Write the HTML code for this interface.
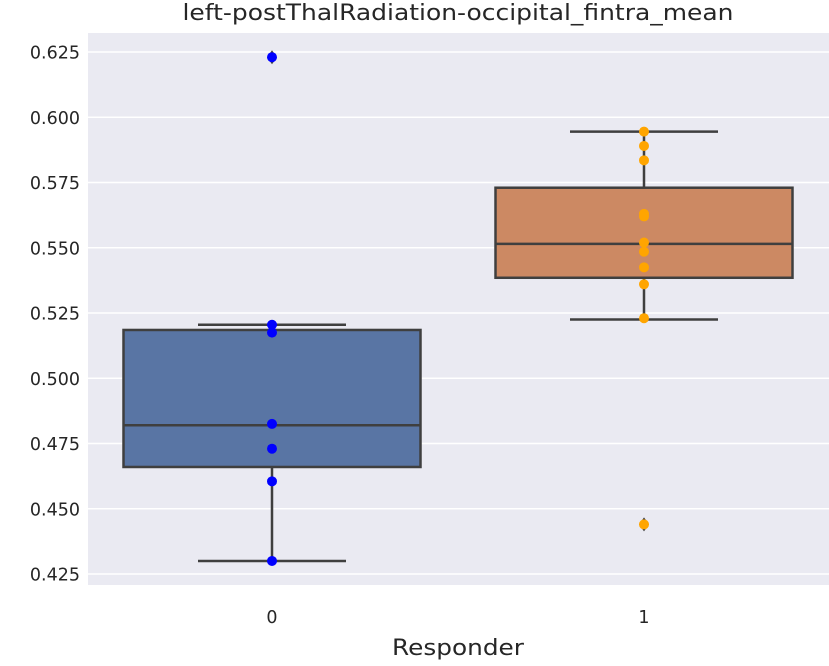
<!DOCTYPE html>
<html><head><meta charset="utf-8"><style>
body{margin:0;background:#fff;}
svg text{font-family:"DejaVu Sans","Liberation Sans",sans-serif;fill:#262626;}
</style></head><body>
<svg id="chart" width="829" height="661" viewBox="0 0 829 661" xmlns="http://www.w3.org/2000/svg">
<rect x="88" y="33" width="741" height="552" fill="#eaeaf2"/>
<g id="grid"></g><g id="boxes"></g><g id="pts"></g><g id="axes"></g>
<text x="458" y="20" text-anchor="middle" font-size="22" textLength="551" lengthAdjust="spacingAndGlyphs">left-postThalRadiation-occipital_fintra_mean</text>
<text x="458" y="655" text-anchor="middle" font-size="22" textLength="132" lengthAdjust="spacingAndGlyphs">Responder</text>
</svg>
<script>
const categories=["0","1"];
const yTicks=[0.425,0.45,0.475,0.5,0.525,0.55,0.575,0.6,0.625];
const q1=[0.466,0.5385];
const medians=[0.482,0.5515];
const q3=[0.5185,0.573];
const whiskLo=[0.430,0.5225];
const whiskHi=[0.5205,0.5945];
const outliers=[[0.623],[0.444]];
const points0=[0.623,0.5205,0.5175,0.4825,0.473,0.4605,0.430];
const points1=[0.5945,0.589,0.5835,0.563,0.562,0.552,0.5485,0.5425,0.536,0.523,0.444];
const boxColors=["#5975a4","#cc8963"];
const ptColors=["#0000ff","#ffa500"];
const NS="http://www.w3.org/2000/svg";
const y=v=>574-(v-0.425)/0.025*65.25;
const x=i=>272+i*372;
const halfW=148.5;
function mk(tag,attrs,parent){const e=document.createElementNS(NS,tag);for(const k in attrs)e.setAttribute(k,attrs[k]);document.getElementById(parent).appendChild(e);return e;}
yTicks.forEach(t=>{
 const l=mk('line',{x1:88,x2:829,y1:y(t),y2:y(t),stroke:'#fff','stroke-width':1.5},'grid');
 
 
 const tx=mk('text',{x:80,y:y(t)+6.5,'text-anchor':'end','font-size':17.5},'axes');
 tx.textContent=t.toFixed(3);
 
 
});
categories.forEach((c,i)=>{
 const cx=x(i),s='#3f3f3f';
 const g=mk('g',{},'boxes');
 
 
 const a=(t,o)=>{const e=document.createElementNS(NS,t);for(const k in o)e.setAttribute(k,o[k]);g.appendChild(e);return e;};
 a('line',{x1:cx,x2:cx,y1:y(q3[i]),y2:y(whiskHi[i]),stroke:s,'stroke-width':2.5});
 a('line',{x1:cx,x2:cx,y1:y(q1[i]),y2:y(whiskLo[i]),stroke:s,'stroke-width':2.5});
 a('line',{x1:cx-74,x2:cx+74,y1:y(whiskHi[i]),y2:y(whiskHi[i]),stroke:s,'stroke-width':2.5});
 a('line',{x1:cx-74,x2:cx+74,y1:y(whiskLo[i]),y2:y(whiskLo[i]),stroke:s,'stroke-width':2.5});
 a('rect',{x:cx-halfW,y:y(q3[i]),width:halfW*2,height:y(q1[i])-y(q3[i]),fill:boxColors[i],stroke:s,'stroke-width':2.5});
 a('line',{x1:cx-halfW,x2:cx+halfW,y1:y(medians[i]),y2:y(medians[i]),stroke:s,'stroke-width':2.5});
 outliers[i].forEach(o=>{a('path',{d:`M${cx} ${y(o)-7}L${cx+5} ${y(o)}L${cx} ${y(o)+7}L${cx-5} ${y(o)}Z`,fill:s});});
 const tx=mk('text',{x:cx,y:623,'text-anchor':'middle','font-size':17.5},'axes');
 tx.textContent=c;
 
 
});
[points0,points1].forEach((arr,i)=>arr.forEach(v=>{
 const p=mk('circle',{cx:x(i),cy:y(v),r:5,fill:ptColors[i]},'pts');
 
 
}));
</script>
</body></html>
